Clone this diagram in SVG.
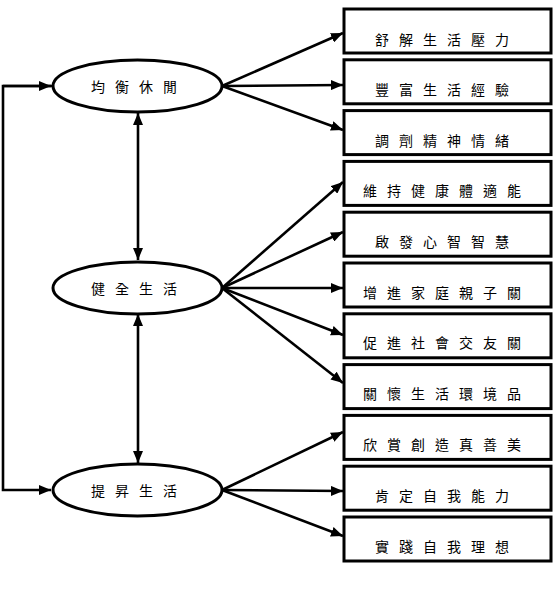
<svg xmlns="http://www.w3.org/2000/svg" width="557" height="608" viewBox="0 0 557 608">
<defs>
<marker id="ah" viewBox="0 0 12 10" refX="12" refY="5" markerWidth="12" markerHeight="10" markerUnits="userSpaceOnUse" orient="auto-start-reverse">
<path d="M0,0 L12,5 L0,10 Z" fill="#000"/>
</marker>
<style>
.box{fill:#fff;stroke:#000;stroke-width:3}
.ell{fill:#fff;stroke:#000;stroke-width:3}
.c{fill:none;stroke:#000;stroke-width:2.6}
.t{font-family:"Noto Sans CJK TC","Noto Sans CJK SC",sans-serif;font-size:14px;letter-spacing:10px;fill:#000;text-anchor:middle;dominant-baseline:central}
</style>
</defs>
<rect width="557" height="608" fill="#fff"/>
<g id="connectors">
<path class="c" d="M137.5,86 L 3,86 L 3,490 L 51,490" marker-end="url(#ah)"/>
<path class="c" d="M3,86 L51,86" marker-end="url(#ah)"/>
<line class="c" x1="138" y1="113" x2="138" y2="260" marker-start="url(#ah)" marker-end="url(#ah)"/>
<line class="c" x1="138" y1="314" x2="138" y2="463" marker-start="url(#ah)" marker-end="url(#ah)"/>
<line class="c" x1="222" y1="86" x2="343" y2="33" marker-end="url(#ah)"/>
<line class="c" x1="222" y1="86" x2="343" y2="85" marker-end="url(#ah)"/>
<line class="c" x1="222" y1="86" x2="343" y2="130" marker-end="url(#ah)"/>
<line class="c" x1="222" y1="288" x2="343" y2="182" marker-end="url(#ah)"/>
<line class="c" x1="222" y1="288" x2="343" y2="232" marker-end="url(#ah)"/>
<line class="c" x1="222" y1="288" x2="343" y2="288" marker-end="url(#ah)"/>
<line class="c" x1="222" y1="288" x2="343" y2="335" marker-end="url(#ah)"/>
<line class="c" x1="222" y1="288" x2="343" y2="383" marker-end="url(#ah)"/>
<line class="c" x1="222" y1="490" x2="343" y2="432" marker-end="url(#ah)"/>
<line class="c" x1="222" y1="490" x2="343" y2="491" marker-end="url(#ah)"/>
<line class="c" x1="222" y1="490" x2="343" y2="536" marker-end="url(#ah)"/>
</g>
<g id="n_balance"><ellipse class="ell" cx="137.5" cy="86" rx="84.5" ry="26"/><text class="t" x="139" y="86">均衡休閒</text></g>
<g id="n_healthy"><ellipse class="ell" cx="137.5" cy="288" rx="84.5" ry="26"/><text class="t" x="139" y="288">健全生活</text></g>
<g id="n_elevate"><ellipse class="ell" cx="137.5" cy="490" rx="84.5" ry="26"/><text class="t" x="139" y="490">提昇生活</text></g>
<g id="b1"><rect class="box" x="344" y="9" width="207" height="44"/><text class="t" x="447" y="39">舒解生活壓力</text></g>
<g id="b2"><rect class="box" x="344" y="59.8" width="207" height="44"/><text class="t" x="447" y="89">豐富生活經驗</text></g>
<g id="b3"><rect class="box" x="344" y="110.6" width="207" height="44"/><text class="t" x="447" y="140">調劑精神情緒</text></g>
<g id="b4"><rect class="box" x="344" y="161.4" width="207" height="44"/><text class="t" x="447" y="190">維持健康體適能</text></g>
<g id="b5"><rect class="box" x="344" y="212.2" width="207" height="44"/><text class="t" x="447" y="241">啟發心智智慧</text></g>
<g id="b6"><rect class="box" x="344" y="263" width="207" height="44"/><text class="t" x="447" y="292">增進家庭親子關</text></g>
<g id="b7"><rect class="box" x="344" y="313.8" width="207" height="44"/><text class="t" x="447" y="342">促進社會交友關</text></g>
<g id="b8"><rect class="box" x="344" y="364.6" width="207" height="44"/><text class="t" x="447" y="393">關懷生活環境品</text></g>
<g id="b9"><rect class="box" x="344" y="415.4" width="207" height="44"/><text class="t" x="447" y="444">欣賞創造真善美</text></g>
<g id="b10"><rect class="box" x="344" y="466.2" width="207" height="44"/><text class="t" x="447" y="495">肯定自我能力</text></g>
<g id="b11"><rect class="box" x="344" y="517" width="207" height="44"/><text class="t" x="447" y="546">實踐自我理想</text></g>
</svg>
